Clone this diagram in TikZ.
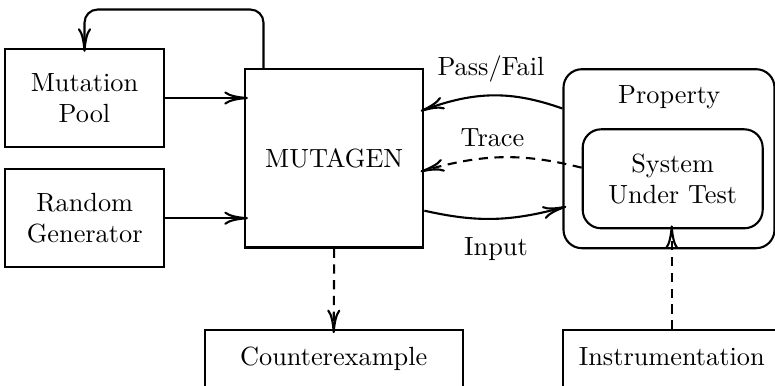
\documentclass[tikz,border=0pt]{standalone}
\usetikzlibrary{arrows.meta,calc}
\newcommand\pu{0.3802pt}
\begin{document}
\begin{tikzpicture}[x=0.3802pt,y=-0.3802pt,
  box/.style={draw,line width=0.8pt,inner sep=0pt,align=center},
  rbox/.style={box,rounded corners=7pt},
  openbox/.style={draw,line width=0.8pt,inner xsep=0pt,inner ysep=6.5pt,text height=7pt,text depth=25pt,anchor=north},
  conn/.style={line width=0.8pt,-{Computer Modern Rightarrow[length=9pt,width=5pt]},shorten >=-1.5pt},
  dconn/.style={conn,dash pattern=on 3.5pt off 2.5pt},
  lbl/.style={inner sep=0pt}]
\useasboundingbox (0,0) rectangle (775,386);
\clip (0,0) rectangle (775,386);
\node[box,minimum width={159*\pu},minimum height={98*\pu}] (pool) at (84.5,98) {Mutation\\Pool};
\node[box,minimum width={159.3*\pu},minimum height={98.3*\pu}] (rand) at (84.7,218.2) {Random\\Generator};
\node[box,minimum width={178.3*\pu},minimum height={178.2*\pu}] (mut) at (334.2,158.4) {MUTAGEN};
\node[rbox,minimum width={211*\pu},minimum height={179*\pu}] (prop) at (669,158.7) {};
\node[lbl] (proplbl) at (669.2,97) {Property};
\node[rbox,minimum width={180*\pu},minimum height={99*\pu}] (sut) at (672.7,178.8) {System\\Under Test};
\node[openbox,minimum width={258*\pu}] (cex) at (333.7,329.3) {Counterexample};
\node[openbox,minimum width={216.8*\pu}] (instr) at (671.7,329.3) {Instrumentation};
\coordinate (top) at (0,9.5);
\coordinate (loopstart) at ($(mut.north west)+(19.5,0)$);
\draw[conn,rounded corners=5pt] (loopstart) -- (loopstart |- top) -- (pool.north |- top) -- (pool.north);
\draw[conn] (pool.east) -- (mut.west |- pool.east);
\draw[conn] (rand.east) -- (mut.west |- rand.east);
\draw[conn] ($(prop.north west)!0.223!(prop.south west)$) to[bend right=20] ($(mut.north east)!0.23!(mut.south east)$);
\draw[dconn] ($(sut.north west)!0.39!(sut.south west)$) to[bend right=15] ($(mut.north east)!0.567!(mut.south east)$);
\draw[conn] ($(mut.north east)!0.79!(mut.south east)$) to[bend right=14] ($(prop.north west)!0.77!(prop.south west)$);
\draw[dconn] (mut.south) -- (cex.north);
\draw[dconn] (instr.north) -- (instr.north |- sut.south);
\node[lbl] (passlbl) at (491,68.5) {Pass/Fail};
\node[lbl] (tracelbl) at (492.5,138) {Trace};
\node[lbl] (inputlbl) at (496,249.5) {Input};
\end{tikzpicture}
\end{document}
